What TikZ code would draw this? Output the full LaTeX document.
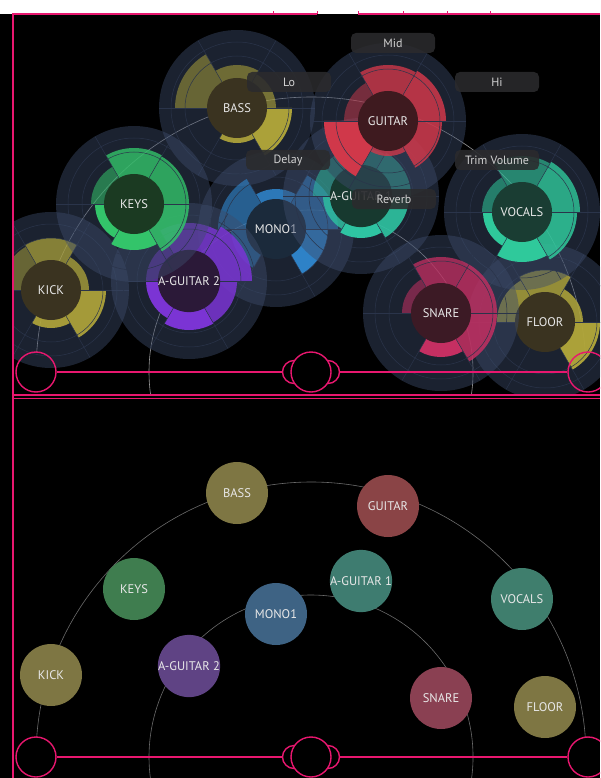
\documentclass[tikz,border=0pt]{standalone}
\usepackage{fontspec}
\setmainfont{PT Sans}
\usetikzlibrary{calc}
\definecolor{mixpink}{HTML}{E8176F}
\definecolor{haloc}{HTML}{3D4C6B}
\definecolor{spokec}{HTML}{2A344A}
\definecolor{labelc}{HTML}{E8E8E8}
\definecolor{tagc}{HTML}{2B2B2D}
\definecolor{tagtext}{HTML}{D2D2D2}
\definecolor{trackc}{HTML}{6A6A6A}
\definecolor{kickc}{HTML}{B3A83A}\definecolor{kickd}{HTML}{3A3320}\definecolor{kickf}{HTML}{7E7643}
\definecolor{guitarc}{HTML}{D0384A}\definecolor{guitard}{HTML}{3E1A1F}\definecolor{guitarf}{HTML}{8A4446}
\definecolor{snarec}{HTML}{C52F62}\definecolor{snared}{HTML}{3C1A25}\definecolor{snaref}{HTML}{8A4052}
\definecolor{keysc}{HTML}{33C46A}\definecolor{keysd}{HTML}{1B3A22}\definecolor{keysf}{HTML}{3F7D4F}
\definecolor{vocalsc}{HTML}{2FC99B}\definecolor{vocalsd}{HTML}{1A3D33}\definecolor{vocalsf}{HTML}{3F7E6D}
\definecolor{agonec}{HTML}{2EC4A2}\definecolor{aoned}{HTML}{17392F}\definecolor{agonef}{HTML}{3E7C70}
\definecolor{monoc}{HTML}{3088D0}\definecolor{monod}{HTML}{1B2A3B}\definecolor{monof}{HTML}{3E6384}
\definecolor{agtwoc}{HTML}{7B34D4}\definecolor{agtwod}{HTML}{2B1938}\definecolor{agtwof}{HTML}{5F4384}
\tikzset{
  halo/.style={fill=haloc,fill opacity=0.45},
  spoke/.style={draw=spokec,line width=0.5pt},
  disk/.style={circle,minimum size=60pt,inner sep=0pt,text=labelc,
    font=\fontsize{12.5}{14}\selectfont},
  flatdisk/.style={circle,minimum size=62pt,inner sep=0pt,text=labelc,
    font=\fontsize{12.5}{14}\selectfont},
  infotag/.style={rounded corners=5pt,fill=tagc,fill opacity=0.88,text opacity=1,
    text=tagtext,minimum width=84pt,minimum height=20pt,inner sep=0pt,
    font=\fontsize{12}{14}\selectfont},
  trackline/.style={draw=trackc,line width=0.6pt},
  ctrlline/.style={draw=mixpink,line width=1.4pt},
  speaker/.style={circle,draw=mixpink,line width=1.4pt,minimum size=40pt,inner sep=0pt},
  ear/.style={circle,draw=mixpink,fill=black,line width=1.4pt,minimum size=23pt,inner sep=0pt},
  head/.style={circle,draw=mixpink,fill=black,line width=1.4pt,minimum size=40pt,inner sep=0pt}
}
% #1 name, #2 position, #3 colour, #4 disk colour, #5 label, #6 sectors radius/opacity
\newcommand{\channel}[6]{%
  \coordinate (#1-c) at (#2);
  \fill[halo] (#1-c) circle[radius=78];
  \foreach \r/\o [count=\i from 0] in {#6} {
    \ifnum\r>0
      \fill[#3,fill opacity=\o] (#1-c) -- ++(-60*\i:\r)
        arc[start angle=-60*\i,delta angle=-60,radius=\r] -- cycle;
    \fi
  }
  \foreach \rr in {52,66} \draw[spoke] (#1-c) circle[radius=\rr];
  \foreach \a in {0,60,...,300}
    \draw[spoke] ($(#1-c)+(\a:30)$) -- ($(#1-c)+(\a:78)$);
  \node[disk,fill=#4] (#1) at (#1-c) {#5};
}
% #1 prefix, #2 y of the line
\newcommand{\listener}[2]{%
  \node[speaker] (#1-lspk) at (36,#2) {};
  \node[speaker] (#1-rspk) at (588,#2) {};
  \node[ear] (#1-lear) at (294,#2) {};
  \node[ear] (#1-rear) at (328,#2) {};
  \node[head] (#1-head) at (311,#2) {};
  \draw[ctrlline] (#1-lspk.east) -- (#1-lear.west);
  \draw[ctrlline] (#1-rear.east) -- (#1-rspk.west);
}

\begin{document}
\begin{tikzpicture}[x=1pt,y=-1pt]
  \useasboundingbox (0,0) rectangle (600,778);
  \fill[white] (0,0) rectangle (600,14);
  \fill[black] (0,14) rectangle (600,778);

  % upper panel: channels with band rings
  \begin{scope}
    \clip (13,14) rectangle (600,395);
    \draw[trackline,draw=black!40] (311,372) ++(-4.2:275) arc[start angle=-4.2,end angle=-175.8,radius=275];
    \draw[trackline,draw=black!40] (311,372) ++(12:162) arc[start angle=12,end angle=-192,radius=162];
    \channel{kick}{51,290}{kickc}{kickd}{KICK}{38/0.75,52/0.7,50/0.5,0/0,38/0.9,55/0.9}
    \channel{bass}{237,108}{kickc}{kickd}{BASS}{39/0.6,43/0.55,62/0.5,0/0,35/0.9,55/0.95}
    \channel{mono}{276,229}{monoc}{monod}{MONO1}{62/0.7,40/0.85,58/0.6,45/0.6,0/0,52/0.95}
    \channel{agone}{361,196}{agonec}{aoned}{A-GUITAR 1}{50/0.6,48/0.5,48/0.5,38/0.8,42/1,48/0.9}
    \channel{guitar}{388,121}{guitarc}{guitard}{GUITAR}{58/0.85,56/0.8,44/0.5,64/1,35/0.8,54/0.85}
    \channel{agtwo}{189,281}{agtwoc}{agtwod}{A-GUITAR 2}{63/0.85,58/0.8,43/0.6,43/1,49/1,48/0.85}
    \channel{keys}{134,204}{keysc}{keysd}{KEYS}{55/0.8,56/0.8,43/0.55,39/1,46/1,55/0.85}
    \channel{floor}{545,322}{kickc}{kickd}{FLOOR}{38/0.85,52/0.8,48/0.8,0/0,0/0,55/0.95}
    \channel{vocals}{522,212}{vocalsc}{vocalsd}{VOCALS}{58/0.8,56/0.6,40/0.55,39/1,50/1,55/0.85}
    \channel{snare}{441,313}{snarec}{snared}{SNARE}{56/0.8,56/0.75,39/0.55,0/0,44/1,56/0.85}
    % band labels
    \node[infotag] (lo) at (289,82) {Lo};
    \node[infotag] (mid) at (393,43) {Mid};
    \node[infotag] (hi) at (497,82) {Hi};
    \node[infotag] (delay) at (288,160) {Delay};
    \node[infotag] (trim) at (497,160) {Trim Volume};
    \node[infotag] (reverb) at (394,199) {Reverb};
    \listener{up}{372}
  \end{scope}

  % lower panel: flat channels
  \begin{scope}
    \clip (13,399) rectangle (600,778);
    \draw[trackline] (311,757) ++(-4.2:275) arc[start angle=-4.2,end angle=-175.8,radius=275];
    \draw[trackline] (311,757) ++(12:162) arc[start angle=12,end angle=-192,radius=162];
    \foreach \n/\x/\y/\c/\t in {bass/237/493/kickf/BASS, guitar/388/506/guitarf/GUITAR,
        keys/134/589/keysf/KEYS, agone/361/581/agonef/A-GUITAR 1, vocals/522/599/vocalsf/VOCALS,
        mono/276/614/monof/MONO1, agtwo/189/666/agtwof/A-GUITAR 2, kick/51/675/kickf/KICK,
        snare/441/698/snaref/SNARE, floor/545/707/kickf/FLOOR}
      \node[flatdisk,fill=\c] (\n-flat) at (\x,\y) {\t};
    \listener{low}{757}
  \end{scope}

  % panel frames
  \draw[ctrlline] (13,778) -- (13,14) -- (317,14);
  \draw[ctrlline] (358,14) -- (600,14);
  \foreach \x in {273,317,358,403,447,490}
    \draw[ctrlline,line width=0.8pt] (\x,14) -- (\x,11);
  \draw[ctrlline,line width=1.2pt] (13,395) -- (600,395);
  \draw[ctrlline,line width=1.2pt] (13,398.5) -- (600,398.5);
\end{tikzpicture}
\end{document}
